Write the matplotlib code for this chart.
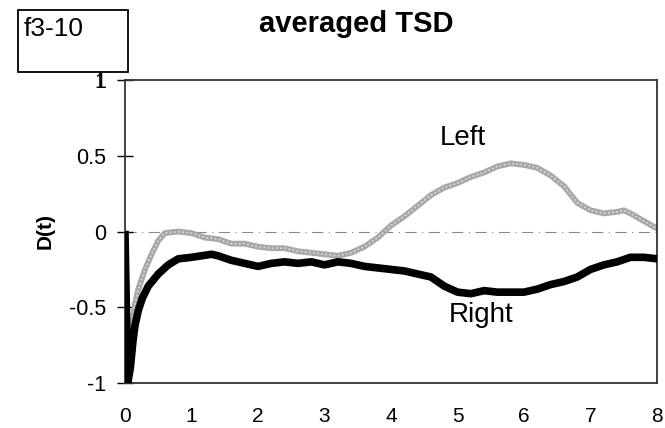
import matplotlib
matplotlib.use("Agg")
import matplotlib.pyplot as plt
from matplotlib.patches import Rectangle

plt.rcParams['font.family'] = ['Liberation Sans', 'DejaVu Sans']

# averaged TSD
left_t = [0.08, 0.15, 0.2, 0.3, 0.4, 0.5, 0.6, 0.8, 1.0, 1.2, 1.4, 1.6, 1.8, 2.0,
          2.2, 2.4, 2.6, 2.8, 3.0, 3.2, 3.4, 3.6, 3.8, 4.0, 4.2, 4.4, 4.6, 4.8,
          5.0, 5.2, 5.4, 5.6, 5.8, 6.0, 6.2, 6.4, 6.6, 6.8, 7.0, 7.2, 7.4, 7.5,
          7.6, 7.8, 8.0]
left_d = [-0.7, -0.48, -0.38, -0.25, -0.15, -0.06, -0.01, 0.0, -0.01, -0.04,
          -0.05, -0.08, -0.08, -0.1, -0.11, -0.11, -0.13, -0.14, -0.15, -0.16,
          -0.14, -0.1, -0.04, 0.04, 0.1, 0.17, 0.24, 0.29, 0.32, 0.36, 0.39,
          0.43, 0.45, 0.44, 0.42, 0.37, 0.3, 0.19, 0.14, 0.12, 0.13, 0.14, 0.12,
          0.07, 0.02]

right_t = [0.0, 0.02, 0.04, 0.08, 0.12, 0.15, 0.2, 0.26, 0.35, 0.5, 0.65, 0.8,
           1.0, 1.3, 1.4, 1.6, 1.8, 2.0, 2.2, 2.4, 2.6, 2.8, 3.0, 3.2, 3.4, 3.6,
           3.8, 4.0, 4.2, 4.4, 4.6, 4.8, 5.0, 5.2, 5.4, 5.6, 5.8, 6.0, 6.2, 6.4,
           6.6, 6.8, 7.0, 7.2, 7.4, 7.6, 7.8, 8.0]
right_d = [-0.02, -0.5, -1.0, -0.9, -0.72, -0.62, -0.52, -0.44, -0.36, -0.28,
           -0.22, -0.18, -0.17, -0.15, -0.16, -0.19, -0.21, -0.23, -0.21, -0.2,
           -0.21, -0.2, -0.22, -0.2, -0.21, -0.23, -0.24, -0.25, -0.26, -0.28,
           -0.3, -0.36, -0.4, -0.41, -0.39, -0.4, -0.4, -0.4, -0.38, -0.35,
           -0.33, -0.3, -0.25, -0.22, -0.2, -0.17, -0.17, -0.18]

x_ticks = [0, 1, 2, 3, 4, 5, 6, 7, 8]
y_ticks = [-1, -0.5, 0, 0.5, 1]
y_labels = ['-1', '-0.5', '0', '0.5', '1']

fig = plt.figure(figsize=(6.65, 4.28), dpi=100)
ax = fig.add_axes([0.188, 0.105, 0.8, 0.708])

ax.axhline(0, color='#888888', lw=0.8, ls=(0, (10, 5, 1, 5)), zorder=1)
ax.plot(left_t, left_d, color='#a8a8a8', lw=4.2, solid_capstyle='round', zorder=2)
ax.plot(left_t, left_d, color='white', lw=1.2, alpha=0.6, ls=(0, (1, 1.5)), zorder=3)
ax.plot(right_t, right_d, color='black', lw=5.5, solid_joinstyle='round', zorder=4)

ax.text(5.08, 0.57, 'Left', fontsize=20, ha='center', va='baseline')
ax.text(5.35, -0.6, 'Right', fontsize=20, ha='center', va='baseline')

ax.set_xlim(0, 8)
ax.set_ylim(-1, 1)
ax.set_xticks(x_ticks)
ax.set_yticks(y_ticks)
ax.set_yticklabels(y_labels)
ax.tick_params(axis='y', direction='inout', length=12, width=1, labelsize=15.5, pad=7.5)
ax.tick_params(axis='x', length=0, labelsize=15, pad=17)
for s in ax.spines.values():
    s.set_linewidth(1.3)
    s.set_color('#333333')

fig.text(0.068, 0.46, 'D(t)', rotation=90, fontsize=15, fontweight='bold',
         ha='center', va='center')
fig.text(0.535, 0.945, 'averaged TSD', fontsize=21, fontweight='bold',
         ha='center', va='center')

# label box in the upper left corner
fig.patches.append(Rectangle((0.027, 0.832), 0.165, 0.145, transform=fig.transFigure,
                             fill=False, ec='black', lw=1.3))
fig.add_artist(plt.Line2D([0.150, 0.150], [0.797, 0.832], color='black', lw=1.2))
fig.text(0.036, 0.932, 'f3-10', fontsize=19, ha='left', va='center')

fig.savefig('out.png', dpi=100)
